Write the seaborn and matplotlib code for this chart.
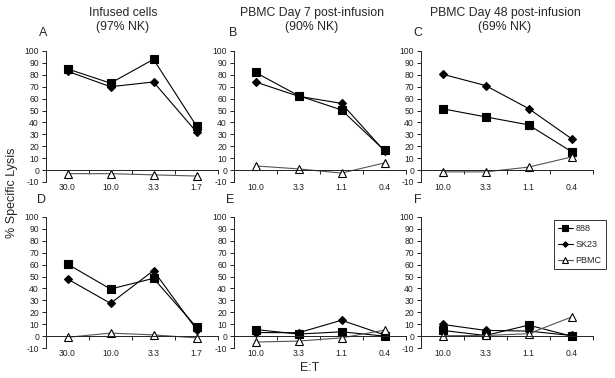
import matplotlib
matplotlib.use("Agg")
import matplotlib.pyplot as plt
import pandas as pd
import seaborn as sns

# E:T ratios per column of panels
ratios_infused = ["30.0", "10.0", "3.3", "1.7"]
ratios_pbmc = ["10.0", "3.3", "1.1", "0.4"]

# % specific lysis
a_888 = [85, 73, 93, 37]
a_sk23 = [83, 70, 74, 32]
a_pbmc = [-3, -3, -4, -5]

b_888 = [82, 62.5, 50.5, 16.5]
b_sk23 = [74, 62, 56, 16]
b_pbmc = [3.5, 1, -2.5, 6]

c_888 = [51.5, 44.7, 38, 15.5]
c_sk23 = [80.5, 71, 51.7, 26.4]
c_pbmc = [-1.5, -1.5, 2.5, 11]

d_888 = [60.5, 39.5, 48.5, 7.5]
d_sk23 = [48, 27.5, 55, 5.5]
d_pbmc = [-1, 2.5, 1, -1.5]

e_888 = [5.5, 1.7, 3.6, 0]
e_sk23 = [3, 2.8, 13.3, 1]
e_pbmc = [-5, -4.2, -1.5, 5]

f_888 = [4.8, 0.5, 9.2, 0]
f_sk23 = [9.8, 4.8, 4.2, 0.5]
f_pbmc = [0.3, 0.5, 2, 16]

series_names = ["888", "SK23", "PBMC"]
panel_letters = ["A", "B", "C", "D", "E", "F"]
col_titles = ["Infused cells\n(97% NK)",
              "PBMC Day 7 post-infusion\n(90% NK)",
              "PBMC Day 48 post-infusion\n(69% NK)"]

panels = [
    (ratios_infused, [a_888, a_sk23, a_pbmc]),
    (ratios_pbmc, [b_888, b_sk23, b_pbmc]),
    (ratios_pbmc, [c_888, c_sk23, c_pbmc]),
    (ratios_infused, [d_888, d_sk23, d_pbmc]),
    (ratios_pbmc, [e_888, e_sk23, e_pbmc]),
    (ratios_pbmc, [f_888, f_sk23, f_pbmc]),
]

styles = {
    "888": dict(marker="s", markersize=6.2, color="black", markerfacecolor="black",
                markeredgecolor="black"),
    "SK23": dict(marker="D", markersize=4.0, color="black", markerfacecolor="black",
                 markeredgecolor="black"),
    "PBMC": dict(marker="^", markersize=5.5, color="#555555", markerfacecolor="white",
                 markeredgecolor="black"),
}

sns.set_style("ticks")
plt.rcParams["font.family"] = ["Liberation Sans", "DejaVu Sans"]
plt.rcParams["axes.unicode_minus"] = False

W, H = 615, 378
fig = plt.figure(figsize=(W / 100, H / 100), dpi=100)

lefts = [46, 234, 421]
bottoms = [182, 348]
ax_w, ax_h = 172, 131

for i, (cats, values) in enumerate(panels):
    row, col = divmod(i, 3)
    ax = fig.add_axes([lefts[col] / W, 1 - bottoms[row] / H, ax_w / W, ax_h / H])
    for name, vals in zip(series_names, values):
        df = pd.DataFrame({"ratio": cats, "lysis": vals})
        sns.lineplot(data=df, x="ratio", y="lysis", sort=False, linewidth=0.8,
                     markeredgewidth=0.8, ax=ax, label=name if i == 5 else None,
                     **styles[name])
    ax.set_xlim(-0.5, 3.5)
    ax.set_ylim(-10, 100)
    ax.set_yticks(range(-10, 101, 10))
    ax.set_xticks(range(len(cats)))
    ax.set_xticklabels(cats)
    ax.set_xticks([0.5, 1.5, 2.5, 3.5], minor=True)
    ax.spines["top"].set_visible(False)
    ax.spines["right"].set_visible(False)
    ax.spines["bottom"].set_position(("data", 0))
    for sp in ("left", "bottom"):
        ax.spines[sp].set_linewidth(0.7)
        ax.spines[sp].set_color("#222222")
    ax.tick_params(axis="y", labelsize=6.2, length=3, width=0.7, pad=2, colors="#222222")
    ax.tick_params(axis="x", which="major", labelsize=6.2, length=0, pad=9,
                   colors="#222222")
    ax.tick_params(axis="x", which="minor", length=3, width=0.7, direction="out",
                   color="#222222")
    ax.set_xlabel("")
    ax.set_ylabel("")
    if i == 5:
        leg = ax.legend(loc="upper right", bbox_to_anchor=(1.09, 1.0), fontsize=6.5,
                        frameon=True, fancybox=False, handlelength=1.6,
                        markerscale=0.7, borderpad=0.5, labelspacing=0.75,
                        handletextpad=0.3, borderaxespad=0.3)
        leg.get_frame().set_edgecolor("black")
        leg.get_frame().set_linewidth(0.7)

letter_pos = [(43, 33), (233, 33), (418, 33), (42, 200), (230, 200), (418, 200)]
for letter, (x, y) in zip(panel_letters, letter_pos):
    fig.text(x / W, 1 - y / H, letter, ha="center", va="center", fontsize=9)

title_x = [123, 312, 505]
for t, x in zip(col_titles, title_x):
    fig.text(x / W, 1 - 20 / H, t, ha="center", va="center", fontsize=8.8,
             linespacing=1.15)

fig.text(12 / W, 1 - 193 / H, "% Specific Lysis", rotation=90, ha="center",
         va="center", fontsize=9)
fig.text(310 / W, 1 - 368 / H, "E:T", ha="center", va="center", fontsize=9)

fig.savefig("out.png", dpi=100)
